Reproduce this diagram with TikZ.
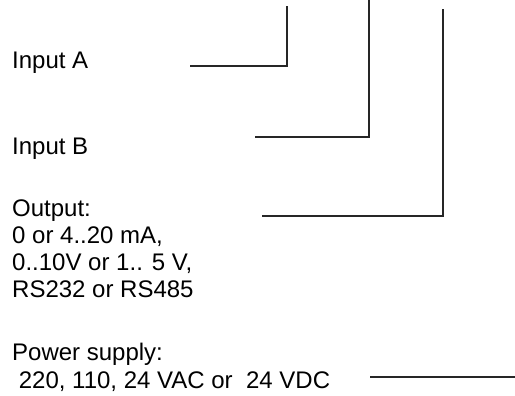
\documentclass[tikz,border=0pt]{standalone}
\usepackage{fontspec}
\setmainfont{Liberation Sans}
\usetikzlibrary{
		calc,
		positioning
	}
\tikzset{
		label/.style={anchor=base west,inner sep=0pt,align=left,
			font=\fontsize{24}{27.3}\selectfont},
		lead/.style={line width=1.2pt,draw=black!85}
	}

\begin{document}
\begin{tikzpicture}[x=1pt,y=-1pt]
\useasboundingbox (0,0) rectangle (515,396);
% labels (multi-line ones sit on their last baseline)
\node[label] (inA) at (12,69) {Input A};
\node[label] (inB) at (12,154) {Input B};
\node[label] (out) at (12,298) {Output:\\0 or 4..20 mA,\\0..10V or 1.. 5 V,\\RS232 or RS485};
\node[label] (pwr) at (12,388) {Power supply:\\\ 220, 110, 24 VAC or\ \ 24 VDC};
% lead lines
\coordinate (inA-s) at (190,66);
\coordinate (inA-c) at (287,66);
\coordinate (inA-e) at (287,6);
\coordinate (inB-s) at (255,137);
\coordinate (inB-c) at (369,137);
\coordinate (inB-e) at (369,0);
\coordinate (out-s) at (262,216);
\coordinate (out-c) at (443,216);
\coordinate (out-e) at (443,9);
\coordinate (pwr-s) at (370,377);
\coordinate (pwr-e) at (515,377);
\draw[lead] (inA-s) -- (inA-c) -- (inA-e);
\draw[lead] (inB-s) -- (inB-c) -- (inB-e);
\draw[lead] (out-s) -- (out-c) -- (out-e);
\draw[lead] (pwr-s) -- (pwr-e);
\end{tikzpicture}
\end{document}
